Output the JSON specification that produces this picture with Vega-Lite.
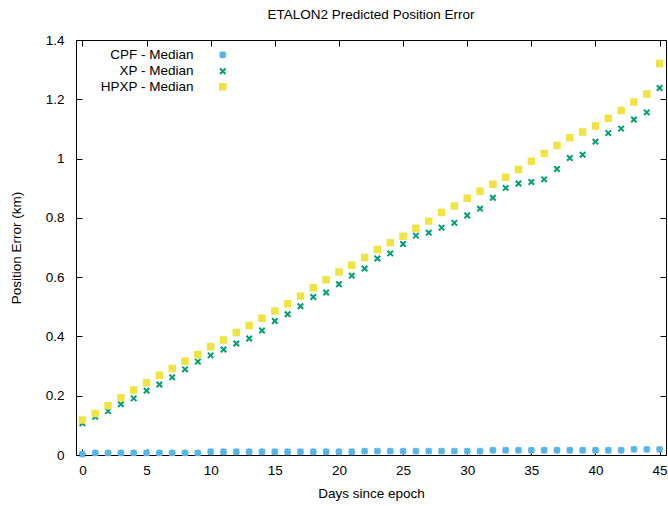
{
  "$schema": "https://vega.github.io/schema/vega-lite/v6.json",
  "width": 590,
  "height": 415,
  "autosize": {"type": "none"},
  "padding": {"left": 76, "top": 40, "right": 2, "bottom": 51},
  "background": "white",
  "config": {
    "font": "Liberation Sans",
    "view": {"stroke": "#000000", "strokeWidth": 1},
    "axis": {
      "domain": false,
      "grid": false,
      "ticks": true,
      "tickColor": "#000000",
      "tickSize": -6,
      "tickWidth": 1,
      "labelFont": "Liberation Sans",
      "labelFontSize": 13.5,
      "labelColor": "#000000",
      "titleFont": "Liberation Sans",
      "titleFontSize": 13.5,
      "titleFontWeight": "normal",
      "titleColor": "#000000"
    },
    "legend": {
      "labelFont": "Liberation Sans",
      "labelFontSize": 13.5,
      "labelColor": "#000000"
    }
  },
  "title": {
    "text": "ETALON2 Predicted Position Error",
    "font": "Liberation Sans",
    "fontSize": 13.5,
    "fontWeight": "normal",
    "color": "#000000",
    "anchor": "middle",
    "offset": 12
  },
  "data": {
    "values": [
      {"day": 0, "err": 0.003, "series": "CPF - Median"},
      {"day": 1, "err": 0.007, "series": "CPF - Median"},
      {"day": 2, "err": 0.007, "series": "CPF - Median"},
      {"day": 3, "err": 0.007, "series": "CPF - Median"},
      {"day": 4, "err": 0.007, "series": "CPF - Median"},
      {"day": 5, "err": 0.007, "series": "CPF - Median"},
      {"day": 6, "err": 0.007, "series": "CPF - Median"},
      {"day": 7, "err": 0.007, "series": "CPF - Median"},
      {"day": 8, "err": 0.007, "series": "CPF - Median"},
      {"day": 9, "err": 0.007, "series": "CPF - Median"},
      {"day": 10, "err": 0.011, "series": "CPF - Median"},
      {"day": 11, "err": 0.011, "series": "CPF - Median"},
      {"day": 12, "err": 0.011, "series": "CPF - Median"},
      {"day": 13, "err": 0.011, "series": "CPF - Median"},
      {"day": 14, "err": 0.011, "series": "CPF - Median"},
      {"day": 15, "err": 0.011, "series": "CPF - Median"},
      {"day": 16, "err": 0.011, "series": "CPF - Median"},
      {"day": 17, "err": 0.011, "series": "CPF - Median"},
      {"day": 18, "err": 0.011, "series": "CPF - Median"},
      {"day": 19, "err": 0.011, "series": "CPF - Median"},
      {"day": 20, "err": 0.011, "series": "CPF - Median"},
      {"day": 21, "err": 0.011, "series": "CPF - Median"},
      {"day": 22, "err": 0.013, "series": "CPF - Median"},
      {"day": 23, "err": 0.013, "series": "CPF - Median"},
      {"day": 24, "err": 0.013, "series": "CPF - Median"},
      {"day": 25, "err": 0.013, "series": "CPF - Median"},
      {"day": 26, "err": 0.013, "series": "CPF - Median"},
      {"day": 27, "err": 0.013, "series": "CPF - Median"},
      {"day": 28, "err": 0.013, "series": "CPF - Median"},
      {"day": 29, "err": 0.013, "series": "CPF - Median"},
      {"day": 30, "err": 0.013, "series": "CPF - Median"},
      {"day": 31, "err": 0.013, "series": "CPF - Median"},
      {"day": 32, "err": 0.016, "series": "CPF - Median"},
      {"day": 33, "err": 0.016, "series": "CPF - Median"},
      {"day": 34, "err": 0.016, "series": "CPF - Median"},
      {"day": 35, "err": 0.016, "series": "CPF - Median"},
      {"day": 36, "err": 0.016, "series": "CPF - Median"},
      {"day": 37, "err": 0.016, "series": "CPF - Median"},
      {"day": 38, "err": 0.016, "series": "CPF - Median"},
      {"day": 39, "err": 0.016, "series": "CPF - Median"},
      {"day": 40, "err": 0.016, "series": "CPF - Median"},
      {"day": 41, "err": 0.016, "series": "CPF - Median"},
      {"day": 42, "err": 0.016, "series": "CPF - Median"},
      {"day": 43, "err": 0.019, "series": "CPF - Median"},
      {"day": 44, "err": 0.019, "series": "CPF - Median"},
      {"day": 45, "err": 0.019, "series": "CPF - Median"},
      {"day": 0, "err": 0.107, "series": "XP - Median"},
      {"day": 1, "err": 0.129, "series": "XP - Median"},
      {"day": 2, "err": 0.148, "series": "XP - Median"},
      {"day": 3, "err": 0.171, "series": "XP - Median"},
      {"day": 4, "err": 0.191, "series": "XP - Median"},
      {"day": 5, "err": 0.217, "series": "XP - Median"},
      {"day": 6, "err": 0.238, "series": "XP - Median"},
      {"day": 7, "err": 0.262, "series": "XP - Median"},
      {"day": 8, "err": 0.289, "series": "XP - Median"},
      {"day": 9, "err": 0.315, "series": "XP - Median"},
      {"day": 10, "err": 0.336, "series": "XP - Median"},
      {"day": 11, "err": 0.356, "series": "XP - Median"},
      {"day": 12, "err": 0.376, "series": "XP - Median"},
      {"day": 13, "err": 0.393, "series": "XP - Median"},
      {"day": 14, "err": 0.420, "series": "XP - Median"},
      {"day": 15, "err": 0.452, "series": "XP - Median"},
      {"day": 16, "err": 0.475, "series": "XP - Median"},
      {"day": 17, "err": 0.502, "series": "XP - Median"},
      {"day": 18, "err": 0.533, "series": "XP - Median"},
      {"day": 19, "err": 0.548, "series": "XP - Median"},
      {"day": 20, "err": 0.576, "series": "XP - Median"},
      {"day": 21, "err": 0.605, "series": "XP - Median"},
      {"day": 22, "err": 0.629, "series": "XP - Median"},
      {"day": 23, "err": 0.663, "series": "XP - Median"},
      {"day": 24, "err": 0.680, "series": "XP - Median"},
      {"day": 25, "err": 0.712, "series": "XP - Median"},
      {"day": 26, "err": 0.740, "series": "XP - Median"},
      {"day": 27, "err": 0.750, "series": "XP - Median"},
      {"day": 28, "err": 0.767, "series": "XP - Median"},
      {"day": 29, "err": 0.783, "series": "XP - Median"},
      {"day": 30, "err": 0.808, "series": "XP - Median"},
      {"day": 31, "err": 0.831, "series": "XP - Median"},
      {"day": 32, "err": 0.868, "series": "XP - Median"},
      {"day": 33, "err": 0.901, "series": "XP - Median"},
      {"day": 34, "err": 0.916, "series": "XP - Median"},
      {"day": 35, "err": 0.921, "series": "XP - Median"},
      {"day": 36, "err": 0.930, "series": "XP - Median"},
      {"day": 37, "err": 0.965, "series": "XP - Median"},
      {"day": 38, "err": 1.002, "series": "XP - Median"},
      {"day": 39, "err": 1.013, "series": "XP - Median"},
      {"day": 40, "err": 1.057, "series": "XP - Median"},
      {"day": 41, "err": 1.086, "series": "XP - Median"},
      {"day": 42, "err": 1.101, "series": "XP - Median"},
      {"day": 43, "err": 1.132, "series": "XP - Median"},
      {"day": 44, "err": 1.156, "series": "XP - Median"},
      {"day": 45, "err": 1.238, "series": "XP - Median"},
      {"day": 0, "err": 0.118, "series": "HPXP - Median"},
      {"day": 1, "err": 0.140, "series": "HPXP - Median"},
      {"day": 2, "err": 0.166, "series": "HPXP - Median"},
      {"day": 3, "err": 0.193, "series": "HPXP - Median"},
      {"day": 4, "err": 0.219, "series": "HPXP - Median"},
      {"day": 5, "err": 0.244, "series": "HPXP - Median"},
      {"day": 6, "err": 0.269, "series": "HPXP - Median"},
      {"day": 7, "err": 0.292, "series": "HPXP - Median"},
      {"day": 8, "err": 0.316, "series": "HPXP - Median"},
      {"day": 9, "err": 0.339, "series": "HPXP - Median"},
      {"day": 10, "err": 0.365, "series": "HPXP - Median"},
      {"day": 11, "err": 0.388, "series": "HPXP - Median"},
      {"day": 12, "err": 0.413, "series": "HPXP - Median"},
      {"day": 13, "err": 0.437, "series": "HPXP - Median"},
      {"day": 14, "err": 0.461, "series": "HPXP - Median"},
      {"day": 15, "err": 0.486, "series": "HPXP - Median"},
      {"day": 16, "err": 0.510, "series": "HPXP - Median"},
      {"day": 17, "err": 0.536, "series": "HPXP - Median"},
      {"day": 18, "err": 0.564, "series": "HPXP - Median"},
      {"day": 19, "err": 0.591, "series": "HPXP - Median"},
      {"day": 20, "err": 0.617, "series": "HPXP - Median"},
      {"day": 21, "err": 0.640, "series": "HPXP - Median"},
      {"day": 22, "err": 0.666, "series": "HPXP - Median"},
      {"day": 23, "err": 0.693, "series": "HPXP - Median"},
      {"day": 24, "err": 0.716, "series": "HPXP - Median"},
      {"day": 25, "err": 0.738, "series": "HPXP - Median"},
      {"day": 26, "err": 0.765, "series": "HPXP - Median"},
      {"day": 27, "err": 0.789, "series": "HPXP - Median"},
      {"day": 28, "err": 0.818, "series": "HPXP - Median"},
      {"day": 29, "err": 0.840, "series": "HPXP - Median"},
      {"day": 30, "err": 0.866, "series": "HPXP - Median"},
      {"day": 31, "err": 0.890, "series": "HPXP - Median"},
      {"day": 32, "err": 0.913, "series": "HPXP - Median"},
      {"day": 33, "err": 0.937, "series": "HPXP - Median"},
      {"day": 34, "err": 0.963, "series": "HPXP - Median"},
      {"day": 35, "err": 0.991, "series": "HPXP - Median"},
      {"day": 36, "err": 1.017, "series": "HPXP - Median"},
      {"day": 37, "err": 1.044, "series": "HPXP - Median"},
      {"day": 38, "err": 1.070, "series": "HPXP - Median"},
      {"day": 39, "err": 1.090, "series": "HPXP - Median"},
      {"day": 40, "err": 1.110, "series": "HPXP - Median"},
      {"day": 41, "err": 1.136, "series": "HPXP - Median"},
      {"day": 42, "err": 1.162, "series": "HPXP - Median"},
      {"day": 43, "err": 1.191, "series": "HPXP - Median"},
      {"day": 44, "err": 1.218, "series": "HPXP - Median"},
      {"day": 45, "err": 1.321, "series": "HPXP - Median"}
    ]
  },
  "layer": [
    {
      "mark": {"type": "point", "filled": true, "opacity": 1, "size": 30, "strokeWidth": 2},
      "encoding": {
        "x": {
          "field": "day",
          "type": "quantitative",
          "scale": {"domain": [-0.5, 45.5], "nice": false, "zero": false},
          "axis": {
            "orient": "bottom",
            "values": [0, 5, 10, 15, 20, 25, 30, 35, 40, 45],
            "labelFlush": false,
            "labelPadding": 14,
            "title": "Days since epoch",
            "titlePadding": 10
          }
        },
        "y": {
          "field": "err",
          "type": "quantitative",
          "scale": {"domain": [0, 1.4], "nice": false},
          "axis": {
            "orient": "left",
            "values": [0, 0.2, 0.4, 0.6, 0.8, 1, 1.2, 1.4],
            "format": "~g",
            "labelFlush": false,
            "labelPadding": 18,
            "title": "Position Error (km)",
            "titlePadding": 22
          }
        },
        "color": {
          "field": "series",
          "type": "nominal",
          "scale": {
            "domain": ["CPF - Median", "XP - Median", "HPXP - Median"],
            "range": ["#56b4e9", "#009e73", "#f0e442"]
          },
          "legend": {
            "title": null,
            "orient": "none",
            "legendX": 18,
            "legendY": 8,
            "padding": 0,
            "rowPadding": 0.5,
            "labelAlign": "right",
            "labelOffset": -36,
            "symbolOffset": 122,
            "symbolSize": 30,
            "symbolStrokeWidth": 2
          }
        },
        "stroke": {
          "field": "series",
          "type": "nominal",
          "scale": {
            "domain": ["CPF - Median", "XP - Median", "HPXP - Median"],
            "range": ["#56b4e9", "#009e73", "#f0e442"]
          },
          "legend": null
        },
        "shape": {
          "field": "series",
          "type": "nominal",
          "scale": {
            "domain": ["CPF - Median", "XP - Median", "HPXP - Median"],
            "range": [
              "M-1.25,0L1.25,0M0,-1.25L0,1.25M-1,-1L1,1M-1,1L1,-1",
              "M-1,-1L1,1M-1,1L1,-1",
              "M-1,-1H1V1H-1Z"
            ]
          },
          "legend": null
        }
      }
    },
    {
      "mark": {"type": "point", "opacity": 0},
      "encoding": {
        "x": {
          "field": "day",
          "type": "quantitative",
          "scale": {"domain": [-0.5, 45.5], "nice": false, "zero": false},
          "axis": {
            "orient": "top",
            "values": [0, 5, 10, 15, 20, 25, 30, 35, 40, 45],
            "labels": false,
            "title": null
          }
        },
        "y": {
          "field": "err",
          "type": "quantitative",
          "scale": {"domain": [0, 1.4], "nice": false},
          "axis": {
            "orient": "right",
            "values": [0, 0.2, 0.4, 0.6, 0.8, 1, 1.2, 1.4],
            "labels": false,
            "title": null
          }
        }
      }
    }
  ],
  "resolve": {"axis": {"x": "independent", "y": "independent"}}
}
